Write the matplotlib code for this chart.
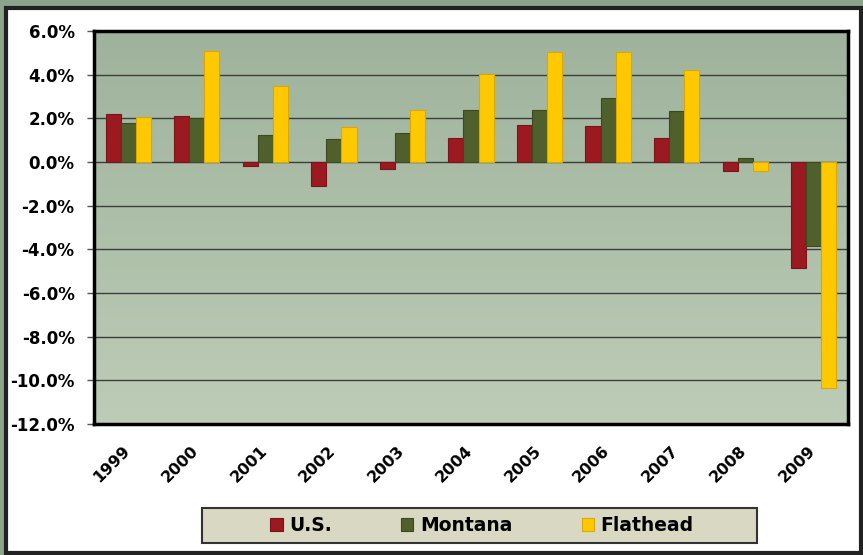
import matplotlib.pyplot as plt
import matplotlib.transforms as mtransforms
from matplotlib.patches import Rectangle
import numpy as np

years = ["1999", "2000", "2001", "2002", "2003", "2004", "2005", "2006", "2007", "2008", "2009"]
us = [2.2, 2.12, -0.18, -1.1, -0.3, 1.1, 1.7, 1.65, 1.1, -0.43, -4.84]
montana = [1.77, 2.03, 1.24, 1.05, 1.35, 2.4, 2.4, 2.95, 2.35, 0.18, -3.83]
flathead = [2.05, 5.1, 3.5, 1.6, 2.4, 4.05, 5.05, 5.02, 4.2, -0.4, -10.34]
series_names = ["U.S.", "Montana", "Flathead"]
colors = ["#9b1a21", "#4f602c", "#ffc800"]
edges = ["#7a1418", "#3c4a20", "#d9a900"]

W, H = 863, 555
fig = plt.figure(figsize=(W / 100, H / 100), dpi=100)
fig.patch.set_facecolor("#8ea38b")

# white panel with dark frame
panel = Rectangle((6 / W, 2 / H), 855 / W, 545 / H, transform=fig.transFigure,
                  facecolor="white", edgecolor="#222222", linewidth=3, zorder=-5)
fig.add_artist(panel)

ax = fig.add_axes([94 / W, 1 - 424 / H, (848 - 94) / W, (424 - 31) / H])
ax.set_zorder(1)

# greenish gradient background
grad = np.linspace(0, 1, 100).reshape(-1, 1)
c_top = np.array([0x9f, 0xb3, 0x9c]) / 255
c_bot = np.array([0xbd, 0xcc, 0xb6]) / 255
img = c_top + grad[:, :, None] * (c_bot - c_top)
ax.imshow(img, extent=[-0.5, len(years) - 0.5, -12, 6], aspect="auto", zorder=0, origin="upper")
ax.set_xlim(-0.5, len(years) - 0.5)
ax.set_ylim(-12, 6)

for y in np.arange(-10, 6, 2):
    ax.axhline(y, color="#3a3f3a", linewidth=1.0, zorder=1)

x = np.arange(len(years))
bw = 0.22
for i, (vals, name) in enumerate(zip([us, montana, flathead], series_names)):
    ax.bar(x + (i - 1) * bw, vals, width=bw, color=colors[i], edgecolor=edges[i],
           linewidth=0.8, label=name, zorder=2)

for s in ax.spines.values():
    s.set_linewidth(2.5)
    s.set_color("black")

ax.set_yticks(np.arange(-12, 7, 2))
ax.set_yticklabels([f"{v:.1f}%" for v in np.arange(-12, 7, 2)], fontsize=12, fontweight="bold")
ax.set_xticks(x)
ax.set_xticklabels(years, rotation=45, ha="right", rotation_mode="anchor",
                   fontsize=11.5, fontweight="bold")
ax.tick_params(axis="x", length=0, pad=14)
ax.tick_params(axis="y", length=5, width=1, color="#555555", pad=9)
shift = mtransforms.ScaledTranslation(-6 / 100, 0, fig.dpi_scale_trans)
for lab in ax.get_xticklabels():
    lab.set_transform(lab.get_transform() + shift)

# legend box
box = Rectangle((202 / W, 1 - 543 / H), (757 - 202) / W, 35 / H, transform=fig.transFigure,
                facecolor="#d9d8c2", edgecolor="#333333", linewidth=1.5, zorder=2)
fig.add_artist(box)
leg = fig.legend(loc="center", bbox_to_anchor=(482 / W, 1 - 525.5 / H), ncol=3, frameon=False,
                 handlelength=0.65, handleheight=0.65, handletextpad=0.35, columnspacing=3.7,
                 prop={"weight": "bold", "size": 13.5})
leg.set_zorder(3)

fig.savefig("out.png", dpi=100, facecolor=fig.get_facecolor())
